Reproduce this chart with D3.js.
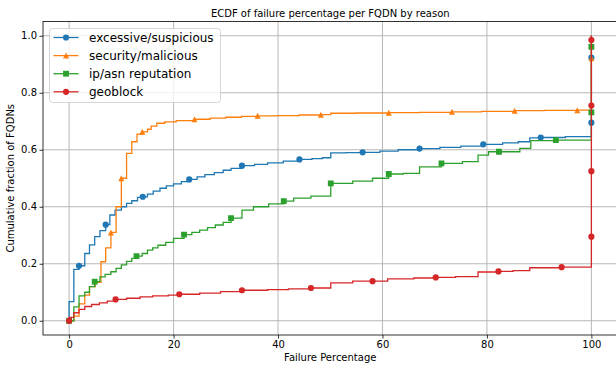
<!DOCTYPE html>
<html>
<head>
<meta charset="utf-8">
<script src="https://cdn.jsdelivr.net/npm/d3@7"></script>
<style>
  body { margin: 0; background: #fff; }
  text { font-family: "DejaVu Sans", sans-serif; fill: #000; }
</style>
</head>
<body>
<svg id="chart" width="616" height="368"></svg>
<script>
// ECDF steps per reason: [failure %, cumulative fraction], drawn as steps-post
const excessive = [[0,0],[0,0.067],[0.9,0.18],[1.9,0.193],[3.0,0.236],[3.9,0.266],[4.9,0.295],[5.9,0.316],[7.0,0.337],[7.8,0.371],[8.8,0.388],[10,0.40],[11,0.412],[12,0.421],[13.1,0.433],[14.1,0.435],[15,0.444],[16.1,0.455],[17.4,0.465],[18.6,0.473],[20,0.48],[21.5,0.488],[23,0.496],[24.5,0.505],[26,0.513],[27.8,0.52],[29.5,0.528],[31,0.535],[33.1,0.544],[35.5,0.549],[38,0.554],[41,0.56],[44.1,0.566],[46.5,0.569],[48.5,0.572],[50.1,0.589],[53,0.59],[56.2,0.591],[59.5,0.595],[63,0.6],[67.1,0.604],[71,0.608],[75,0.613],[79.3,0.619],[83,0.624],[86,0.628],[88.2,0.642],[90.3,0.643],[95,0.646],[100,0.648],[100,1.0]]
const security = [[0,0],[0.9,0.016],[1.9,0.059],[3.0,0.09],[3.9,0.12],[5.0,0.135],[6.1,0.207],[7.0,0.256],[8.0,0.31],[9.0,0.40],[10,0.50],[11,0.587],[12,0.628],[13,0.655],[14,0.663],[15,0.672],[15.7,0.683],[16.8,0.693],[18.3,0.698],[20.5,0.702],[24,0.707],[27,0.711],[30,0.714],[33,0.717],[36.1,0.719],[40,0.72],[44,0.722],[48.2,0.723],[50.1,0.728],[55,0.729],[61.2,0.73],[67,0.731],[73.3,0.733],[79,0.735],[85.3,0.737],[91,0.738],[97.3,0.739],[100,0.742],[100,1.0]]
const reputation = [[0,0],[0.9,0.049],[1.9,0.087],[3.0,0.10],[3.9,0.12],[4.9,0.137],[5.9,0.154],[6.9,0.163],[8,0.172],[9,0.184],[10,0.196],[11,0.208],[12,0.219],[12.9,0.227],[14,0.236],[15,0.248],[16,0.256],[17,0.265],[18.5,0.275],[20,0.289],[22,0.302],[23.5,0.31],[25,0.318],[26.5,0.327],[28,0.336],[29.5,0.345],[31,0.36],[33.1,0.388],[35.3,0.40],[38.2,0.41],[41.1,0.42],[43,0.43],[46.3,0.437],[50.1,0.482],[54.3,0.49],[58.1,0.50],[61.2,0.515],[64,0.517],[67.1,0.54],[71.3,0.552],[75.3,0.558],[78.3,0.581],[80.3,0.593],[86.3,0.605],[88.4,0.632],[93.2,0.634],[100,0.638],[100,1.0]]
const geoblock = [[0,0],[0,0.012],[0.9,0.028],[1.9,0.04],[3,0.05],[4.3,0.057],[5.8,0.063],[7.3,0.069],[8.9,0.075],[11,0.079],[13.6,0.084],[16,0.087],[19,0.09],[21.1,0.093],[25,0.097],[29,0.102],[33.1,0.107],[38,0.109],[42,0.112],[46.3,0.115],[50.1,0.133],[54.3,0.139],[58.1,0.139],[61,0.147],[66,0.15],[70.2,0.152],[74,0.155],[78.3,0.171],[82.2,0.173],[85,0.176],[88.2,0.186],[94.3,0.188],[100,0.193],[100,1.0]]

// marker positions along each curve
const excessiveMarks = [[0,0],[1.9,0.193],[7.0,0.337],[14.1,0.435],[23,0.496],[33.1,0.544],[44.1,0.566],[56.2,0.591],[67.1,0.604],[79.3,0.619],[90.3,0.643],[100,0.695],[100,0.923]]
const securityMarks = [[0,0],[8.0,0.31],[10,0.50],[14,0.663],[24,0.707],[36.1,0.719],[48.2,0.723],[61.2,0.73],[73.3,0.733],[85.3,0.737],[97.3,0.739],[100,0.921]]
const reputationMarks = [[0,0],[4.9,0.137],[12.9,0.227],[22,0.302],[31,0.36],[41.1,0.42],[50.1,0.482],[61.2,0.515],[71.3,0.552],[82.3,0.593],[93.2,0.634],[100,0.731],[100,0.961]]
const geoblockMarks = [[0,0],[8.9,0.075],[21.1,0.093],[33.1,0.107],[46.3,0.115],[58.1,0.139],[70.2,0.152],[82.2,0.173],[94.3,0.188],[100,0.295],[100,0.525],[100,0.755],[100,0.985]]

const reasons = ['excessive/suspicious', 'security/malicious', 'ip/asn reputation', 'geoblock']
const xTicks = [0, 20, 40, 60, 80, 100]
const yTicks = [0, 0.2, 0.4, 0.6, 0.8, 1.0]

// matplotlib style triangle (width = height = marker size)
const triangleUp = {
  draw (ctx, size) {
    const s = Math.sqrt(size) / 2
    ctx.moveTo(0, -s)
    ctx.lineTo(s, s)
    ctx.lineTo(-s, s)
    ctx.closePath()
  }
}

const series = [
  { name: reasons[0], steps: excessive, marks: excessiveMarks, color: '#1f77b4', shape: d3.symbolCircle, size: 30 },
  { name: reasons[1], steps: security, marks: securityMarks, color: '#ff7f0e', shape: triangleUp, size: 36 },
  { name: reasons[2], steps: reputation, marks: reputationMarks, color: '#2ca02c', shape: d3.symbolSquare, size: 34 },
  { name: reasons[3], steps: geoblock, marks: geoblockMarks, color: '#d62728', shape: d3.symbolCircle, size: 30 }
]

// right edge of the axes sits just past the window edge
const margin = { top: 21.5, right: -1.5, bottom: 33, left: 43 }
const width = 616 - margin.left - margin.right
const height = 368 - margin.top - margin.bottom

const svg = d3.select('#chart')
const g = svg.append('g').attr('transform', `translate(${margin.left},${margin.top})`)

const x = d3.scaleLinear().domain([-5, 105]).range([0, width])
const y = d3.scaleLinear().domain([-0.05, 1.05]).range([height, 0])

svg.append('defs').append('clipPath').attr('id', 'clip')
  .append('rect').attr('width', width).attr('height', height)

// grid
g.append('g').selectAll('line').data(xTicks).join('line')
  .attr('x1', d => x(d)).attr('x2', d => x(d)).attr('y1', 0).attr('y2', height)
  .attr('stroke', '#b0b0b0').attr('stroke-width', 0.9)
g.append('g').selectAll('line').data(yTicks).join('line')
  .attr('y1', d => y(d)).attr('y2', d => y(d)).attr('x1', 0).attr('x2', width)
  .attr('stroke', '#b0b0b0').attr('stroke-width', 0.9)

// curves
const line = d3.line().x(d => x(d[0])).y(d => y(d[1])).curve(d3.curveStepAfter)
const plot = g.append('g').attr('clip-path', 'url(#clip)')
series.forEach(s => {
  plot.append('path').datum(s.steps)
    .attr('d', line).attr('fill', 'none')
    .attr('stroke', s.color).attr('stroke-width', 1.3)
  plot.append('g').selectAll('path').data(s.marks).join('path')
    .attr('d', d3.symbol().type(s.shape).size(s.size))
    .attr('transform', d => `translate(${x(d[0])},${y(d[1])})`)
    .attr('fill', s.color)
})

// axes
const xAxis = g.append('g').attr('transform', `translate(0,${height})`)
  .call(d3.axisBottom(x).tickValues(xTicks).tickSize(3.5).tickSizeOuter(0).tickPadding(2.5))
const yAxis = g.append('g')
  .call(d3.axisLeft(y).tickValues(yTicks).tickFormat(d3.format('.1f')).tickSize(3.5).tickSizeOuter(0).tickPadding(2.5))
;[xAxis, yAxis].forEach(a => {
  a.select('.domain').remove()
  a.selectAll('text').attr('font-size', 10).attr('font-family', '"DejaVu Sans", sans-serif').attr('fill', '#000')
  a.selectAll('line').attr('stroke', '#000').attr('stroke-width', 0.8)
})

g.append('rect').attr('width', width).attr('height', height)
  .attr('fill', 'none').attr('stroke', '#000').attr('stroke-width', 0.8)

// labels
svg.append('text').attr('x', margin.left + width / 2).attr('y', 17)
  .attr('text-anchor', 'middle').attr('font-size', 10)
  .text('ECDF of failure percentage per FQDN by reason')
svg.append('text').attr('x', margin.left + width / 2).attr('y', 361)
  .attr('text-anchor', 'middle').attr('font-size', 10)
  .text('Failure Percentage')
svg.append('text').attr('transform', `translate(14,${margin.top + height / 2}) rotate(-90)`)
  .attr('text-anchor', 'middle').attr('font-size', 10)
  .text('Cumulative fraction of FQDNs')

// legend
const legend = svg.append('g').attr('transform', 'translate(49.5,28.5)')
legend.append('rect').attr('width', 171).attr('height', 74).attr('rx', 3)
  .attr('fill', '#fff').attr('fill-opacity', 0.8).attr('stroke', '#cccccc').attr('stroke-width', 0.8)
const items = legend.selectAll('.item').data(series).join('g')
  .attr('class', 'item')
  .attr('transform', (d, i) => `translate(0,${9 + i * 18.1})`)
items.append('line').attr('x1', 4).attr('x2', 29).attr('stroke', d => d.color).attr('stroke-width', 1.3)
items.append('path').attr('d', d => d3.symbol().type(d.shape).size(d.size)())
  .attr('transform', 'translate(16.5,0)').attr('fill', d => d.color)
items.append('text').attr('x', 39.5).attr('y', 4.3).attr('font-size', 12).text(d => d.name)
</script>
</body>
</html>
